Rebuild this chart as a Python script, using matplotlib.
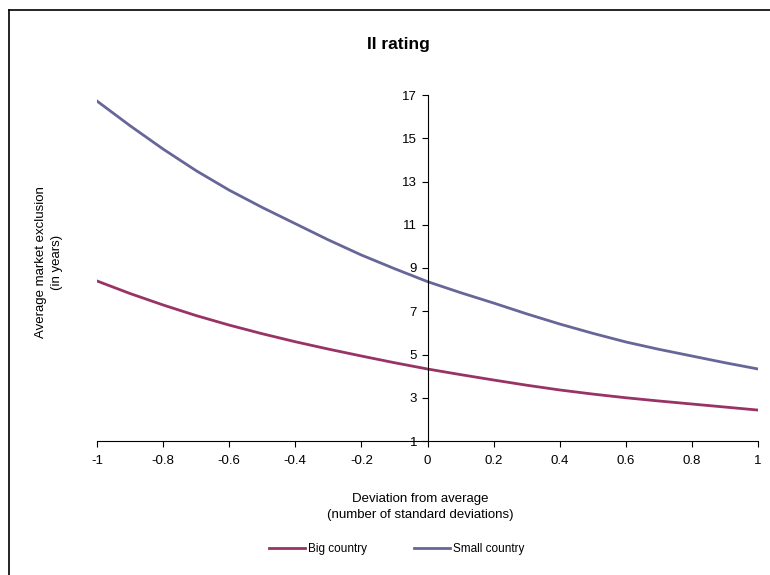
import matplotlib
matplotlib.use('Agg')
import matplotlib.pyplot as plt
from matplotlib.lines import Line2D

plt.rcParams['font.family'] = ['Liberation Sans', 'DejaVu Sans']

# data
deviation = [-1, -0.9, -0.8, -0.7, -0.6, -0.5, -0.4, -0.3, -0.2, -0.1, 0,
             0.1, 0.2, 0.3, 0.4, 0.5, 0.6, 0.7, 0.8, 0.9, 1]
big_country = [8.40, 7.82, 7.29, 6.80, 6.36, 5.96, 5.59, 5.25, 4.93, 4.62, 4.33,
               4.07, 3.82, 3.58, 3.36, 3.17, 3.00, 2.85, 2.71, 2.57, 2.43]
small_country = [16.72, 15.58, 14.50, 13.50, 12.60, 11.80, 11.05, 10.30, 9.60, 8.97, 8.37,
                 7.86, 7.38, 6.88, 6.41, 5.98, 5.58, 5.24, 4.93, 4.62, 4.33]
x_ticks = [-1, -0.8, -0.6, -0.4, -0.2, 0, 0.2, 0.4, 0.6, 0.8, 1]
x_tick_labels = ['-1', '-0.8', '-0.6', '-0.4', '-0.2', '0', '0.2', '0.4', '0.6', '0.8', '1']
y_ticks = [1, 3, 5, 7, 9, 11, 13, 15, 17]

fig = plt.figure(figsize=(7.7, 5.75), dpi=100)
ax = fig.add_axes([97 / 770, 1 - 441 / 575, 661 / 770, 346 / 575])

ax.plot(deviation, big_country, color='#993366', linewidth=2, label='Big country')
ax.plot(deviation, small_country, color='#666699', linewidth=2, label='Small country')

ax.set_xlim(-1, 1)
ax.set_ylim(1, 17)
ax.set_xticks(x_ticks)
ax.set_xticklabels(x_tick_labels)
ax.set_yticks(y_ticks)

# y axis sits at x = 0
ax.spines['left'].set_position(('data', 0))
ax.spines['right'].set_visible(False)
ax.spines['top'].set_visible(False)
for s in ['left', 'bottom']:
    ax.spines[s].set_linewidth(0.8)
ax.tick_params(axis='both', labelsize=9.5, length=4, width=0.8, direction='out')
ax.tick_params(axis='x', pad=6)

fig.text(398 / 770, 1 - 45 / 575, 'II rating', ha='center', va='center',
         fontsize=12.5, fontweight='bold')
fig.text(420 / 770, 1 - 507 / 575, 'Deviation from average\n(number of standard deviations)',
         ha='center', va='center', fontsize=9.5, linespacing=1.5)
fig.text(49 / 770, 1 - 262 / 575, 'Average market exclusion\n(in years)',
         ha='center', va='center', rotation=90, fontsize=9.5, linespacing=1.5)

handles, labels = ax.get_legend_handles_labels()
fig.legend(handles, labels, loc='center', bbox_to_anchor=(397 / 770, 1 - 549 / 575),
           ncol=2, frameon=False, fontsize=8.5, handlelength=3.0, handletextpad=0.3,
           columnspacing=4.0)

# partial frame around the chart (left and top)
fig.add_artist(Line2D([9 / 770, 9 / 770], [0, 1 - 10 / 575], transform=fig.transFigure,
                      color='black', linewidth=1.2))
fig.add_artist(Line2D([9 / 770, 1], [1 - 10 / 575, 1 - 10 / 575], transform=fig.transFigure,
                      color='black', linewidth=1.2))

fig.savefig('out.png', dpi=100)
